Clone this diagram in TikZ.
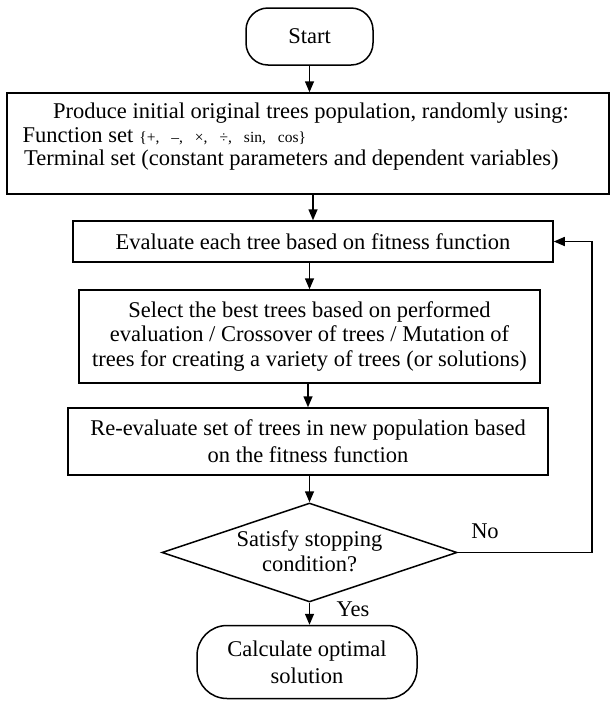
\documentclass[tikz,border=0pt]{standalone}
\usepackage{fontspec}
\setmainfont{Liberation Serif}
\usetikzlibrary{shapes.geometric,arrows.meta}
\newcommand{\setgap}{\hspace{12pt}}
\begin{document}
\begin{tikzpicture}[x=1pt,y=-1pt,
  every node/.style={font=\fontsize{22.5}{26}\selectfont},
  box/.style={draw,line width=1.5pt,rectangle,inner sep=0pt,align=center},
  term/.style={draw,line width=1.5pt,rectangle,rounded corners=22pt,inner sep=0pt,align=center},
  txt/.style={inner sep=0pt,align=center},
  arr/.style={line width=1.5pt,-{Triangle[length=11pt,width=9pt]}}]
\useasboundingbox (0,0) rectangle (611,702);
\node[term,minimum width=127pt,minimum height=57pt] (start) at (309.5,36.5) {Start};
\node[box,minimum width=602pt,minimum height=101pt] (init) at (308,143.5) {};
\node[txt] (t1) at (311,113) {Produce initial original trees population, randomly using:};
\node[txt,anchor=west] (t2) at (22.5,136) {Function set\hspace{6pt}{\fontsize{15.5}{17}\selectfont\{+,\setgap–,\setgap×,\setgap÷,\setgap sin,\setgap cos\}}};
\node[txt,anchor=west] (t3) at (24,160) {Terminal set (constant parameters and dependent variables)};
\node[box,minimum width=480pt,minimum height=41pt] (eval) at (313,241.5) {Evaluate each tree based on fitness function};
\node[box,minimum width=461pt,minimum height=93pt,font=\fontsize{22.5}{25}\selectfont] (sel) at (309.5,336.5) {Select the best trees based on performed\\evaluation / Crossover of trees / Mutation of\\trees for creating a variety of trees (or solutions)};
\node[box,minimum width=480pt,minimum height=67pt,font=\fontsize{22.5}{27}\selectfont] (reev) at (308,441.5) {Re-evaluate set of trees in new population based\\on the fitness function};
\node[draw,diamond,line width=1.5pt,minimum width=295pt,minimum height=99pt,inner sep=0pt] (dec) at (309.5,552.5) {};
\node[txt,font=\fontsize{22.5}{24.5}\selectfont] (dect) at (309.5,551) {Satisfy stopping\\condition?};
\node[term,rounded corners=30pt,minimum width=220pt,minimum height=73pt,font=\fontsize{22.5}{27}\selectfont] (calc) at (307,662) {Calculate optimal\\solution};
\coordinate (fb1) at (592,552.5);
\coordinate (fb2) at (592,241.5);
\draw[arr] (start.south) -- (start.south |- init.north);
\draw[arr] (eval.north |- init.south) -- (eval.north);
\draw[arr] (sel.north |- eval.south) -- (sel.north);
\draw[arr] (reev.north |- sel.south) -- (reev.north);
\draw[arr] (dec.north |- reev.south) -- (dec.north);
\draw[arr] (dec.south) -- (dec.south |- calc.north);
\draw[arr] (dec.east) -- (fb1) -- (fb2) -- (eval.east);
\node[txt] (no) at (485,531) {No};
\node[txt] (yes) at (353,609) {Yes};
\end{tikzpicture}
\end{document}
